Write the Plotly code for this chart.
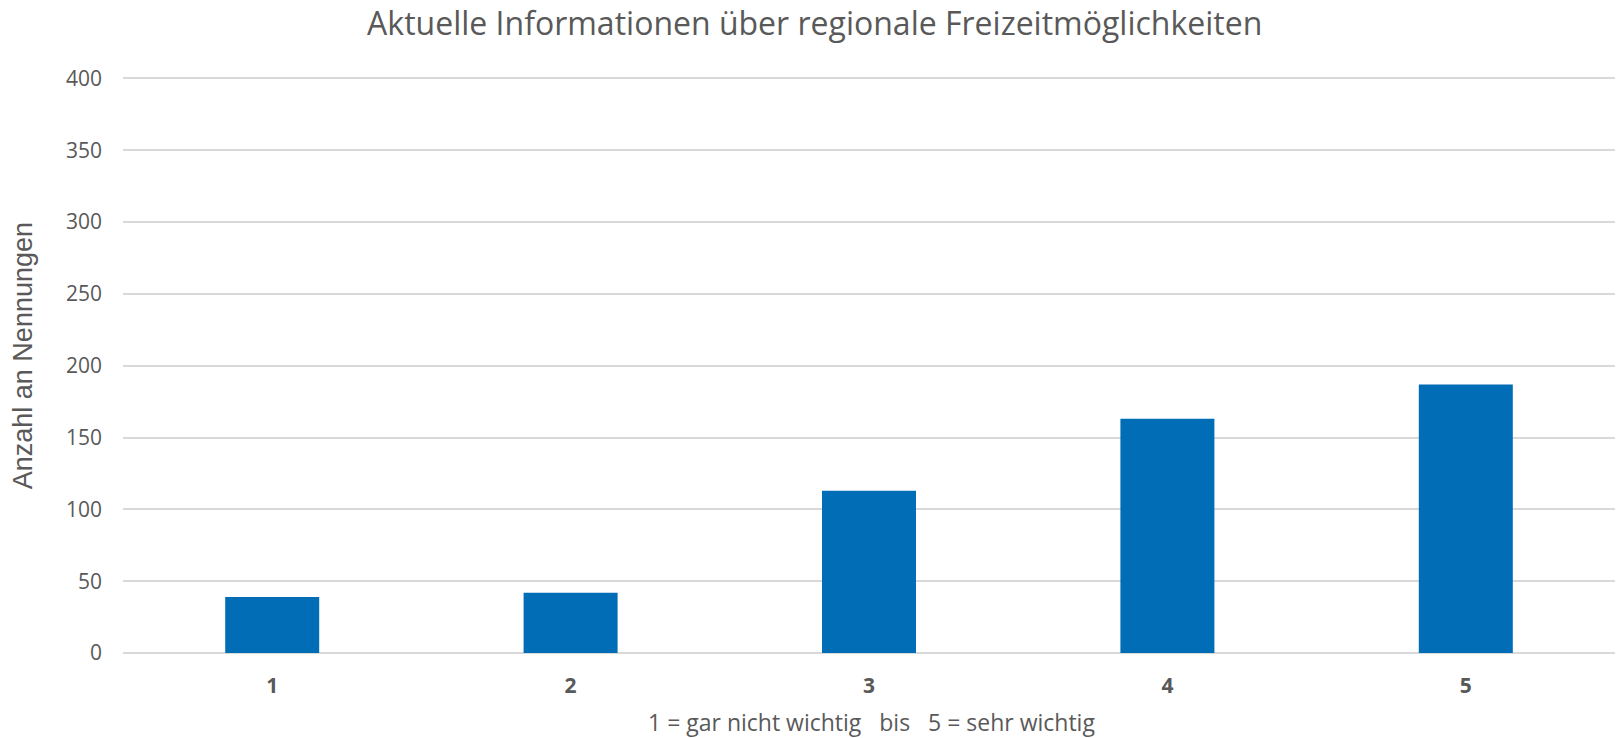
import plotly.graph_objects as go

categories = ["1", "2", "3", "4", "5"]
values = [39, 42, 113, 163, 187]
y_ticks = [0, 50, 100, 150, 200, 250, 300, 350, 400]
title_text = "Aktuelle Informationen über regionale Freizeitmöglichkeiten"
x_title = "1 = gar nicht wichtig\u00a0\u00a0 bis\u00a0\u00a0 5 = sehr wichtig"
y_title = "Anzahl an Nennungen"

W, H = 1616, 738
Y_MAX = 401
PX_PER_UNIT = 575 / 400
L, R, B = 123, 1, 85
T = 78 - (Y_MAX - 400) * PX_PER_UNIT
PW, PH = W - L - R, H - T - B

GREY = "#595959"
GRID = "#D9D9D9"

fig = go.Figure(
    go.Bar(
        x=categories,
        y=values,
        width=0.315,
        marker=dict(color="#006DB6", line=dict(width=0)),
        hoverinfo="x+y",
    )
)

fig.update_layout(
    width=W,
    height=H,
    margin=dict(l=L, r=R, t=T, b=B, autoexpand=False),
    paper_bgcolor="white",
    plot_bgcolor="white",
    showlegend=False,
    title=dict(
        text=title_text,
        x=814.7 / W,
        xanchor="center",
        xref="container",
        y=1 - 23.5 / H,
        yanchor="middle",
        yref="container",
        font=dict(family="Open Sans", size=32, color=GREY),
    ),
    xaxis=dict(
        type="category",
        range=[-0.5, 4.5],
        showgrid=False,
        showline=False,
        ticks="",
        tickfont=dict(family="Open Sans", size=21, color=GREY, weight="bold"),
        ticklabelstandoff=18,
    ),
    yaxis=dict(
        range=[0, Y_MAX],
        tickvals=y_ticks,
        showgrid=True,
        gridcolor=GRID,
        gridwidth=1.5,
        zeroline=True,
        zerolinecolor=GRID,
        zerolinewidth=2,
        showline=False,
        ticks="",
        tickfont=dict(family="Open Sans", size=21, color=GREY),
        ticklabelstandoff=20,
    ),
    annotations=[
        dict(
            text=y_title,
            xref="paper",
            yref="paper",
            x=(23 - L) / PW,
            y=(H - B - 356) / PH,
            xanchor="center",
            yanchor="middle",
            textangle=-90,
            showarrow=False,
            font=dict(family="Liberation Sans", size=27, color=GREY),
        ),
        dict(
            text=x_title,
            xref="paper",
            yref="paper",
            x=(872 - L) / PW,
            y=-(722.4 - (H - B)) / PH,
            xanchor="center",
            yanchor="middle",
            showarrow=False,
            font=dict(family="Open Sans", size=23, color=GREY),
        ),
    ],
)

fig.write_html(
    "out.html",
    config={"displayModeBar": False},
    post_script="document.body.style.margin='0';document.body.style.overflow='hidden';",
)
